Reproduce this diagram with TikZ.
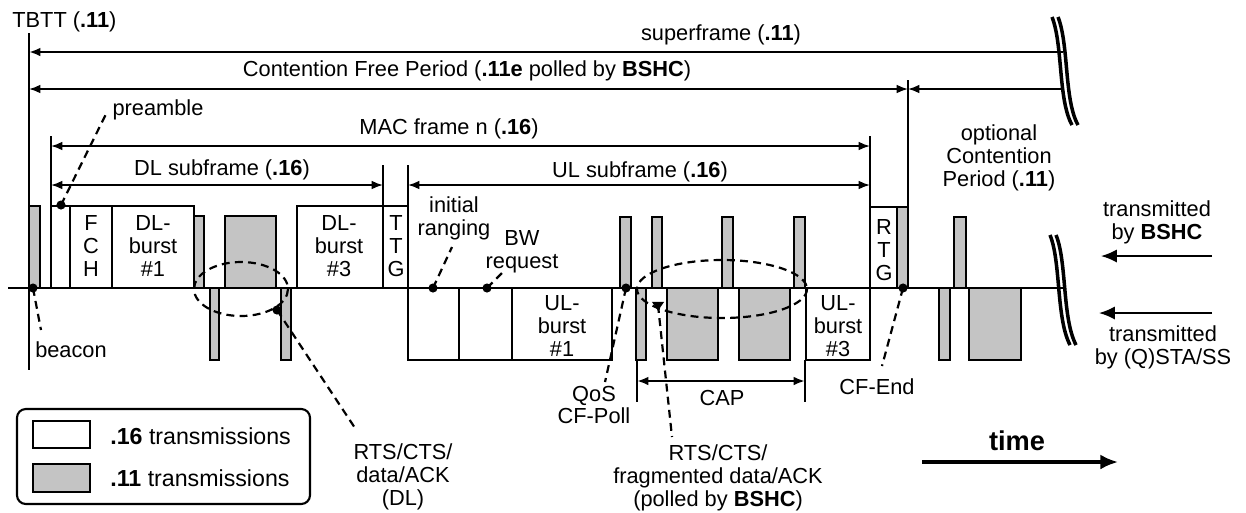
\documentclass[tikz,border=0pt]{standalone}
\usepackage{fontspec}
\setmainfont{Liberation Sans}
\usetikzlibrary{arrows.meta,shapes.geometric}
\definecolor{gfill}{RGB}{196,196,196}
\begin{document}
\begin{tikzpicture}[x=0.02cm,y=-0.02cm,
  txt/.style={font=\fontsize{12.4}{13}\selectfont, inner sep=0pt, align=center},
  ltxt/.style={font=\fontsize{13.2}{15}\selectfont, inner sep=0pt, anchor=west},
  wbox/.style={draw, fill=white, line width=0.8pt},
  gbox/.style={draw, fill=gfill, line width=0.9pt},
  dimline/.style={line width=1pt},
  tip/.tip={Latex[length=6.5pt,width=5pt]},
  bigtip/.tip={Latex[length=9pt,width=7.5pt]},
  lead/.style={line width=1.25pt, dash pattern=on 4.5pt off 3pt},
  dotn/.style={circle, fill=black, inner sep=0pt, minimum size=5.2pt},
  trin/.style={isosceles triangle, shape border rotate=-90, isosceles triangle apex angle=70, fill=black, inner sep=0pt, minimum height=5pt, minimum width=6pt},
  brk/.style={line width=2pt},
]
\useasboundingbox (0,0) rectangle (1246,512);

% ---------- time axis ----------
\coordinate (ax0) at (8,288);
\coordinate (ax1) at (1063,288);
\draw[line width=1pt] (ax0) -- (ax1);

% ---------- TBTT ----------
\node[txt, anchor=west] (tbtt) at (12,22) {TBTT (\textbf{.11})};
\coordinate (tb0) at (29,33);
\coordinate (tb1) at (29,370);
\draw[line width=1.3pt] (tb0) -- (tb1);

% ---------- superframe / CFP / optional CP ----------
\coordinate (sf0) at (29,52);
\coordinate (sf1) at (1063,52);
\draw[dimline, line width=1.3pt, tip-] (sf0) -- (sf1);
\node[txt] (sfL) at (721,35) {superframe (\textbf{.11})};

\coordinate (cf0) at (29,89);
\coordinate (cf1) at (908,89);
\coordinate (cp1) at (1063,89);
\draw[dimline, tip-tip] (cf0) -- (cf1);
\draw[dimline, tip-] (cf1) -- (cp1);
\node[txt] (cfL) at (467,71) {Contention Free Period (\textbf{.11e} polled by \textbf{BSHC})};
\coordinate (v908a) at (908,80);
\coordinate (v908b) at (908,288);
\draw[line width=0.8pt] (v908a) -- (v908b);
\node[txt] (ocp) at (999,158) {optional\\Contention\\Period (\textbf{.11})};

% ---------- MAC frame / subframes ----------
\coordinate (v51a) at (51,136);
\coordinate (v51b) at (51,288);
\draw[line width=1pt] (v51a) -- (v51b);
\coordinate (v870a) at (870,136);
\coordinate (v870b) at (870,207);
\draw[line width=0.8pt] (v870a) -- (v870b);
\coordinate (mf0) at (51,146);
\coordinate (mf1) at (870,146);
\draw[dimline, tip-tip] (mf0) -- (mf1);
\node[txt] (mfL) at (449,129) {MAC frame n (\textbf{.16})};

\coordinate (dl0) at (51,185);
\coordinate (dl1) at (383,185);
\draw[dimline, tip-tip] (dl0) -- (dl1);
\node[txt] (dlL) at (222,170) {DL subframe (\textbf{.16})};
\coordinate (v383a) at (383,165);
\coordinate (v383b) at (383,207);
\draw[line width=0.8pt] (v383a) -- (v383b);

\coordinate (ul0) at (408,185);
\coordinate (ul1) at (870,185);
\draw[dimline, tip-tip] (ul0) -- (ul1);
\node[txt] (ulL) at (640,172) {UL subframe (\textbf{.16})};
\coordinate (v408a) at (408,165);
\coordinate (v408b) at (408,288);
\draw[line width=0.8pt] (v408a) -- (v408b);

% ---------- DL part (above axis) ----------
\draw[gbox] (29,206) rectangle (40,288);
\draw[wbox] (51,206) rectangle (70,288);
\draw[wbox] (70,206) rectangle (112,288);
\node[txt] (fch) at (91,246) {F\\C\\H};
\draw[wbox] (112,206) rectangle (194,288);
\node[txt] (dlb1) at (153,246) {DL-\\burst\\\#1};
\draw[gbox] (194,216) rectangle (204,288);
\draw[gbox] (225,216) rectangle (276,288);
\draw[wbox] (297,206) rectangle (383,288);
\node[txt] (dlb3) at (339,246) {DL-\\burst\\\#3};
\draw[wbox] (383,206) rectangle (408,288);
\node[txt] (ttg) at (396,246) {T\\T\\G};
% below axis
\draw[gbox] (210,288) rectangle (219,360);
\draw[gbox] (281,288) rectangle (291,360);

% ---------- UL part ----------
\draw[wbox] (408,288) rectangle (459,360);
\draw[wbox] (459,288) rectangle (512,360);
\draw[wbox] (512,288) rectangle (612,360);
\node[txt] (ulb1) at (562,326) {UL-\\burst\\\#1};
\draw[gbox] (636,288) rectangle (646,360);
\draw[gbox] (667,288) rectangle (718,360);
\draw[gbox] (739,288) rectangle (790,360);
\draw[wbox] (806,288) rectangle (870,360);
\node[txt] (ulb3) at (838,326) {UL-\\burst\\\#3};
\draw[gbox] (620,217) rectangle (631,288);
\draw[gbox] (652,217) rectangle (662,288);
\draw[gbox] (722,217) rectangle (733,288);
\draw[gbox] (794,217) rectangle (805,288);
\draw[wbox] (870,207) rectangle (897,288);
\node[txt] (rtg) at (884,250) {R\\T\\G};
\draw[gbox] (897,207) rectangle (908,288);

% ---------- optional CP transmissions ----------
\draw[gbox] (954,217) rectangle (966,288);
\draw[gbox] (939,288) rectangle (950,360);
\draw[gbox] (969,288) rectangle (1021,360);

% ---------- CAP ----------
\coordinate (capa) at (637,360);
\coordinate (capb) at (637,402);
\coordinate (capc) at (805,360);
\coordinate (capd) at (805,402);
\draw[line width=0.8pt] (capa) -- (capb);
\draw[line width=0.8pt] (capc) -- (capd);
\coordinate (cap0) at (637,381);
\coordinate (cap1) at (805,381);
\draw[line width=1.3pt, tip-tip] (cap0) -- (cap1);
\node[txt] (capL) at (722,398) {CAP};

% ---------- dashed ellipses ----------
\draw[lead] (241,289) ellipse [x radius=47, y radius=27];
\draw[lead] (722,289) ellipse [x radius=85, y radius=29];

% ---------- dots and leaders ----------
\node[dotn] (dbeacon) at (33,288) {};
\coordinate (ebeacon) at (41,330);
\draw[lead] (dbeacon.center) -- (ebeacon);
\node[txt] (beacon) at (71,350) {beacon};

\node[dotn] (dpre) at (61,205) {};
\coordinate (epre) at (107,112);
\draw[lead] (dpre.center) -- (epre);
\node[txt] (pre) at (158,110) {preamble};

\node[dotn] (ddl) at (277,310) {};
\coordinate (edl) at (355,428);
\draw[lead] (ddl.center) -- (edl);
\node[txt] (rtsdl) at (403,477) {RTS/CTS/\\data/ACK\\(DL)};

\node[dotn] (dini) at (433,288) {};
\coordinate (eini) at (452,247);
\draw[lead] (dini.center) -- (eini);
\node[txt] (ini) at (454,218) {initial\\ranging};

\node[dotn] (dbw) at (487,288) {};
\coordinate (ebw) at (503,272);
\draw[lead] (dbw.center) -- (ebw);
\node[txt] (bw) at (522,252) {BW\\request};

\node[dotn] (dqos) at (626,288) {};
\coordinate (eqos) at (605,382);
\draw[lead] (dqos.center) -- (eqos);
\node[txt] (qos) at (594,405) {QoS\\CF-Poll};

\node[trin] (dfrag) at (658,305) {};
\coordinate (efrag) at (672,437);
\draw[lead] (dfrag.center) -- (efrag);
\node[txt] (frag) at (718,478) {RTS/CTS/\\fragmented data/ACK\\(polled by \textbf{BSHC})};

\node[dotn] (dend) at (903,288) {};
\coordinate (eend) at (882,366);
\draw[lead] (dend.center) -- (eend);
\node[txt] (cfend) at (877,387) {CF-End};

% ---------- break symbols ----------
\draw[brk] (1052,17) .. controls (1063,45) and (1058,100) .. (1072,125);
\draw[brk] (1058,17) .. controls (1069,45) and (1064,100) .. (1078,125);
\draw[brk] (1050,235) .. controls (1061,262) and (1056,318) .. (1070,345);
\draw[brk] (1056,235) .. controls (1067,262) and (1062,318) .. (1076,345);

% ---------- direction legend ----------
\node[txt] (tbs) at (1157,222) {transmitted\\by \textbf{BSHC}};
\coordinate (ab0) at (1212,256);
\coordinate (ab1) at (1101,256);
\draw[line width=1pt, -bigtip] (ab0) -- (ab1);
\node[txt] (tsta) at (1163,347) {transmitted\\by (Q)STA/SS};
\coordinate (as0) at (1212,313);
\coordinate (as1) at (1099,313);
\draw[line width=1pt, -bigtip] (as0) -- (as1);

% ---------- time arrow ----------
\node[font=\fontsize{15.5}{17}\selectfont\bfseries, inner sep=0pt] (timeL) at (1017,441) {time};
\coordinate (t0) at (922,462);
\coordinate (t1) at (1118,462);
\draw[line width=1.8pt, -{Latex[length=10pt,width=8.5pt]}] (t0) -- (t1);

% ---------- legend ----------
\draw[line width=1.2pt, rounded corners=5pt] (17,409) rectangle (310,504);
\draw[wbox] (33,421) rectangle (90,448);
\draw[gbox] (33,464) rectangle (90,492);
\node[ltxt] (l16) at (110,436) {\textbf{.16} transmissions};
\node[ltxt] (l11) at (110,478) {\textbf{.11} transmissions};
\end{tikzpicture}
\end{document}
